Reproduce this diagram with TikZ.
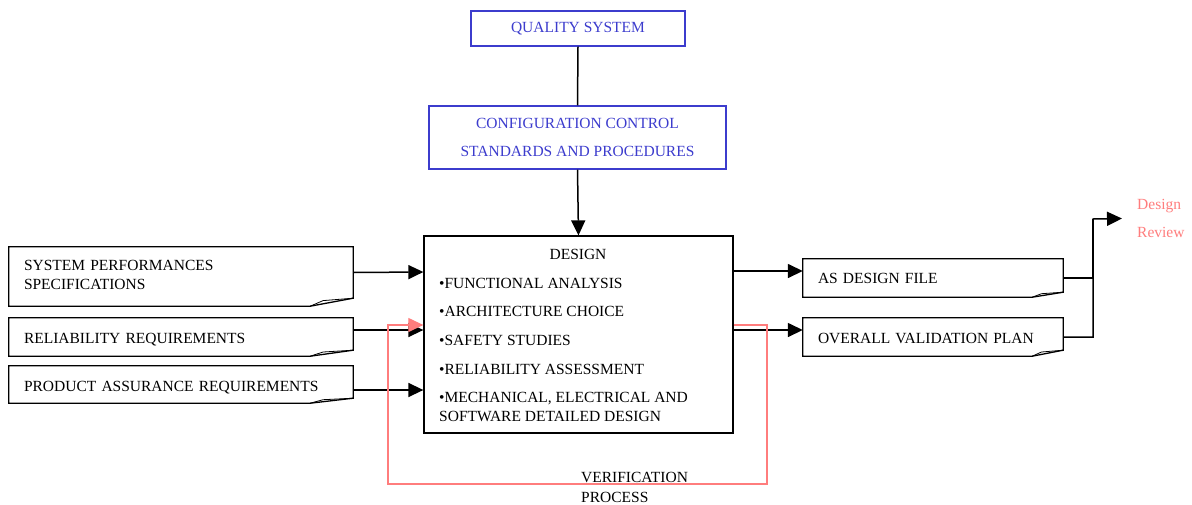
\documentclass[tikz,border=0pt]{standalone}
\usepackage{fontspec}
\setmainfont{Liberation Serif}
\usetikzlibrary{arrows.meta}

\definecolor{qblue}{RGB}{60,60,205}
\definecolor{vred}{RGB}{255,125,125}

% document-shaped outline with a curled lower right corner
% #1 node, #2 drop of the bottom edge, #3 width of the curl
\newcommand\docoutline[3]{%
  \draw[boxline] (#1.south east) -- (#1.north east) -- (#1.north west)
    -- ([yshift=-#2pt]#1.south west) -- ([xshift=-#3pt,yshift=-#2pt]#1.south east) -- cycle;
  \draw[line width=0.8pt] ([xshift=-#3pt,yshift=-#2pt]#1.south east)
    -- ([xshift=-0.7*#3pt,yshift=-0.3*#2pt]#1.south east) -- (#1.south east);
}

\tikzset{
  txt/.style={font=\fontsize{15.5pt}{28pt}\selectfont, inner sep=0pt},
  boxline/.style={line width=1.3pt},
  link/.style={line width=1.5pt},
  arr/.style={line width=1.5pt, -{Triangle[length=15pt,width=14pt]}},
  redarr/.style={draw=vred, line width=1.2pt, -{Triangle[length=15pt,width=14pt,fill=vred]}},
  bluebox/.style={txt, draw=qblue, text=qblue, line width=1.2pt, align=center},
  docnode/.style={txt, font=\fontsize{15.5pt}{19pt}\selectfont, inner xsep=15pt,
    inner ysep=0pt, align=left},
  oneline/.style={text height=#1, text depth=0pt},
}

\begin{document}
\begin{tikzpicture}[x=1pt, y=-1pt]
\useasboundingbox (0,0) rectangle (1192,504);

% quality chain
\node[bluebox, minimum width=214pt, minimum height=35pt] (qs) at (578,28.5) {QUALITY SYSTEM};
\node[bluebox, minimum width=297pt, minimum height=63pt] (cfg) at (577.5,137.5)
  {CONFIGURATION CONTROL\\STANDARDS AND PROCEDURES};

% design activity
\node[draw, line width=1.3pt, minimum width=309pt, minimum height=197pt, inner sep=0pt] (design) at (578.5,334.5) {};
\node[txt, anchor=base] (d0) at (578,259) {DESIGN};
\node[txt, anchor=base west] (d1) at (439,288) {•FUNCTIONAL ANALYSIS};
\node[txt, anchor=base west] (d2) at (439,316) {•ARCHITECTURE CHOICE};
\node[txt, anchor=base west] (d3) at (439,345) {•SAFETY STUDIES};
\node[txt, anchor=base west] (d4) at (439,374) {•RELIABILITY ASSESSMENT};
\node[txt, anchor=base west] (d5) at (439,402) {•MECHANICAL, ELECTRICAL AND};
\node[txt, anchor=base west] (d6) at (439,421) {SOFTWARE DETAILED DESIGN};

% inputs
\node[docnode, text width=314pt, minimum height=51pt] (sp) at (181,272.5)
  {\rule{0pt}{16pt}SYSTEM PERFORMANCES\\SPECIFICATIONS};
\node[docnode, oneline=18pt, text width=314pt, minimum height=32pt] (rr) at (181,334) {RELIABILITY REQUIREMENTS};
\node[docnode, oneline=18pt, text width=314pt, minimum height=32pt] (pa) at (181,382) {PRODUCT ASSURANCE REQUIREMENTS};
\docoutline{sp}{8}{43}
\docoutline{rr}{6}{43}
\docoutline{pa}{5}{43}

% outputs
\node[docnode, oneline=15pt, text width=230pt, minimum height=33pt] (adf) at (933,275.5) {AS DESIGN FILE};
\node[docnode, oneline=18pt, text width=230pt, minimum height=32pt] (ovp) at (933,334) {OVERALL VALIDATION PLAN};
\docoutline{adf}{5}{31}
\docoutline{ovp}{6}{31}

\node[txt, text=vred, anchor=west, inner xsep=15pt, align=left] (dr) at (1122,218.5) {Design\\Review};
\node[txt, anchor=west, align=left, font=\fontsize{15.5pt}{20pt}\selectfont] (vp) at (581,487)
  {VERIFICATION\\PROCESS};

\coordinate (jn) at (1093,219);
\coordinate (vr) at (767,484);
\coordinate (vl) at (388,484);

% connectors
\draw[link] (qs.south) -- (cfg.north);
\draw[arr] (cfg.south) -- (design.north);
\draw[arr] (sp.east) -- ([yshift=62.5pt]design.west);
\draw[arr] ([yshift=4pt]rr.east) -- ([yshift=4.5pt]design.west);
\draw[arr] ([yshift=-8pt]pa.east) -- ([yshift=-55.5pt]design.west);
\draw[arr] ([yshift=63.5pt]design.east) -- ([yshift=4.5pt]adf.west);
\draw[arr] ([yshift=4.5pt]design.east) -- ([yshift=4pt]ovp.west);
\draw[link] ([yshift=-2.5pt]adf.east) -| (jn);
\draw[arr] ([yshift=-3pt]ovp.east) -| (jn) -- (dr.west);

% verification loop
\draw[redarr] ([yshift=9.5pt]design.east) -| (vr) -- (vl) |- ([yshift=9.5pt]design.west);
\end{tikzpicture}
\end{document}
